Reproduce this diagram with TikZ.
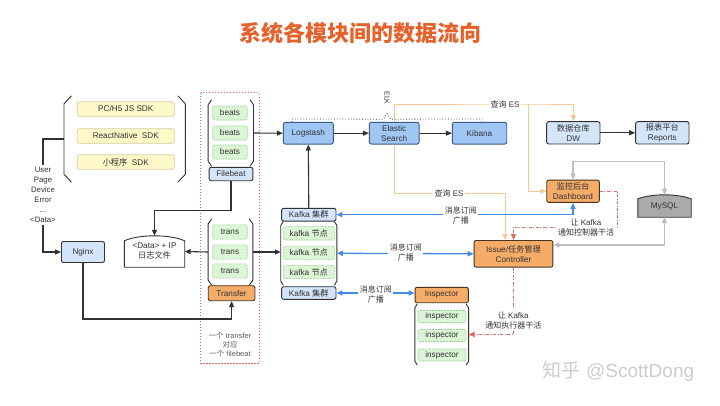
\documentclass[tikz,border=0pt]{standalone}
\usepackage{fontspec}
\setmainfont{Liberation Sans}
\newfontfamily\zh{Noto Sans CJK SC}
\usetikzlibrary{arrows.meta,calc}
\pgfdeclarelayer{bg}
\pgfsetlayers{bg,main}
\definecolor{titlec}{RGB}{230,98,45}
\definecolor{lbluef}{RGB}{212,228,249}
\definecolor{mbluef}{RGB}{160,198,244}
\definecolor{mblued}{RGB}{60,90,130}
\definecolor{orgf}{RGB}{245,172,104}
\definecolor{orgd}{RGB}{70,50,30}
\definecolor{sdkf}{RGB}{255,248,200}
\definecolor{sdkd}{RGB}{215,205,160}
\definecolor{grnf}{RGB}{220,245,215}
\definecolor{grnd}{RGB}{150,210,145}
\definecolor{bluel}{RGB}{66,139,230}
\definecolor{orgl}{RGB}{244,200,150}
\definecolor{grayl}{RGB}{190,190,190}
\definecolor{redl}{RGB}{228,100,100}
\definecolor{redd}{RGB}{238,95,95}
\definecolor{dk}{RGB}{50,50,50}
\definecolor{mysqlf}{RGB}{170,170,170}
\newcommand{\grpbrk}[3]{%
 \draw[brk] ($(#1.north west)+(#2,0)$) -- ($(#1.north west)+(0,#3)$) -- ($(#1.south west)+(0,-#3)$) -- ($(#1.south west)+(#2,0)$);
 \draw[brk] ($(#1.north east)+(-#2,0)$) -- ($(#1.north east)+(0,#3)$) -- ($(#1.south east)+(0,-#3)$) -- ($(#1.south east)+(-#2,0)$);}
\newcommand{\archbox}[4]{%
 \begin{pgfonlayer}{bg}
 \draw[#2] (#1.south west) -- ($(#1.north west)+(0,#3)$) .. controls ($(#1.north west)+(15,#4)$) and ($(#1.north east)+(-15,#4)$) .. ($(#1.north east)+(0,#3)$) -- (#1.south east) -- cycle;
 \end{pgfonlayer}}
\begin{document}
\begin{tikzpicture}[x=1pt,y=-1pt,
  every node/.style={inner sep=0pt, align=center, text=dk},
  >={Triangle[length=6pt,width=5pt]},
  txt/.style={font=\fontsize{8.2}{10}\selectfont},
  sz/.style 2 args={minimum width=#1, minimum height=#2},
  box/.style={txt, rounded corners=2pt, line width=0.9pt, draw=dk},
  lb/.style={box, fill=lbluef},
  mb/.style={box, fill=mbluef, draw=mblued},
  ob/.style={box, fill=orgf, draw=orgd},
  sdk/.style={txt, rounded corners=2pt, line width=0.7pt, draw=sdkd, fill=sdkf, sz={97}{14.5}},
  gb/.style={txt, rounded corners=2pt, line width=0.6pt, draw=grnd, fill=grnf, dash pattern=on 2pt off 1pt},
  grp/.style={draw=none, fill=none},
  brk/.style={draw=dk, line width=0.9pt},
  dkl/.style={draw=dk, line width=1.1pt},
  orl/.style={draw=orgl, line width=0.9pt},
  bll/.style={draw=bluel, line width=1.3pt},
  gyl/.style={draw=grayl, line width=1.5pt},
  rdl/.style={draw=redl, line width=0.9pt, dash pattern=on 3pt off 1.5pt on 1pt off 1.5pt},
  pairbox/.style={draw=redd, line width=1.2pt, dash pattern=on 1.2pt off 1.8pt},
  lab/.style={font=\fontsize{8}{10}\selectfont, fill=white, inner sep=1.5pt}
]
\useasboundingbox (0,0) rectangle (720,405);
\begin{pgfonlayer}{bg}
\fill[white] (0,0) rectangle (720,405);
\end{pgfonlayer}

% title
\node[font=\zh\bfseries\fontsize{22}{24}\selectfont, text=titlec] (title) at (360,33) {系统各模块间的数据流向};

% SDK group
\node[sdk] (pc) at (125.8,109) {PC/H5 JS SDK};
\node[sdk] (rn) at (125.8,136) {ReactNative\ \ SDK};
\node[sdk] (mp) at (125.8,162) {{\zh 小程序}\ \ SDK};
\node[grp, sz={121}{86}] (sdkg) at (124.7,139) {};
\grpbrk{sdkg}{7.5}{8}

\node[font=\fontsize{7.8}{10}\selectfont, inner sep=2pt] (datal) at (43,195) {User\\Page\\Device\\Error\\...\\\textless Data\textgreater};

\node[lb, sz={43}{21}] (nginx) at (83,252) {Nginx};
\node[txt, sz={60}{31}] (logf) at (154.5,251.5) {\textless Data\textgreater{} + IP\\{\zh 日志文件}};
\archbox{logf}{draw=dk, line width=0.9pt, fill=white}{5}{-1.67}

% filebeat group
\node[gb, sz={34.6}{14}] (b1) at (230,113) {beats};
\node[gb, sz={34.6}{14}] (b2) at (230,133) {beats};
\node[gb, sz={34.6}{14}] (b3) at (230,152) {beats};
\node[grp, sz={45}{66}] (fbg) at (230.8,133) {};
\grpbrk{fbg}{3.5}{5}
\node[lb, sz={43.7}{13.4}] (fb) at (231,174) {Filebeat};

% transfer group
\node[gb, sz={34.5}{14.3}] (t1) at (230,232) {trans};
\node[gb, sz={34.5}{14.3}] (t2) at (230,252) {trans};
\node[gb, sz={34.5}{14.3}] (t3) at (230,271) {trans};
\node[grp, sz={44.4}{65.7}] (tg) at (230.5,252) {};
\grpbrk{tg}{3.5}{5}
\node[ob, sz={46.7}{15}] (transfer) at (231.6,293.2) {Transfer};

\node[grp, sz={58}{270}] (pair) at (230,228) {};
\draw[pairbox] (pair.north west) rectangle (pair.south east);
\node[font=\fontsize{7.5}{9}\selectfont, text=dk!80] (note) at (230,344.5) {{\zh 一个} transfer\\{\zh 对应}\\{\zh 一个} filebeat};

% kafka group
\node[lb, sz={54.3}{12.7}] (kc1) at (308.8,214.7) {Kafka {\zh 集群}};
\node[gb, sz={51}{13.3}] (k1) at (308.8,233.3) {kafka {\zh 节点}};
\node[gb, sz={51}{13.3}] (k2) at (308.8,252.7) {kafka {\zh 节点}};
\node[gb, sz={51}{13.3}] (k3) at (308.8,272) {kafka {\zh 节点}};
\node[grp, sz={55.7}{63.3}] (kg) at (308.8,253.3) {};
\grpbrk{kg}{2.5}{4}
\node[lb, sz={54.3}{12.6}] (kc2) at (308.8,293) {Kafka {\zh 集群}};

% ELK
\node[mb, sz={50}{21.7}] (logstash) at (308.3,133.2) {Logstash};
\node[mb, sz={49.7}{21.7}] (es) at (394.2,133.2) {Elastic\\Search};
\node[mb, sz={54.4}{21.7}] (kibana) at (479.5,133.2) {Kibana};
\node[rotate=-90, font=\fontsize{7}{8}\selectfont] (elk) at (387,98) {ELK};
\draw[dk, dotted, line width=0.8pt] ($(logstash.north west)+(9.4,0)$) -- ++(0,-3) -- (383.5,119.2) -- (387,113.5) -- (390.5,119.2) -- ($(kibana.north)+(2.5,-3)$) -- ++(0,3);

% right side
\node[lb, sz={53.3}{22.3}] (dw) at (573.3,132.8) {{\zh 数据仓库}\\DW};
\node[lb, sz={53.3}{22.3}] (rep) at (662.3,132.8) {{\zh 报表平台}\\Reports};
\node[ob, sz={52.6}{22.3}] (dash) at (573,191.2) {{\zh 监控后台}\\Dashboard};
\node[ob, sz={78.7}{26.7}] (ctrl) at (513.5,253.8) {Issue/{\zh 任务管理}\\Controller};
\node[txt, sz={53}{22}] (mysql) at (664.5,206) {MySQL};
\archbox{mysql}{draw=dk, line width=0.9pt, fill=mysqlf}{4}{-1.33}

% inspector group
\node[ob, sz={53.3}{15.4}] (insp) at (441.7,295) {Inspector};
\node[gb, sz={48}{12}] (i1) at (442,316.5) {inspector};
\node[gb, sz={48}{12}] (i2) at (442,335.5) {inspector};
\node[gb, sz={48}{12}] (i3) at (442,355) {inspector};
\node[grp, sz={53.3}{61}] (ig) at (441.7,334.5) {};
\grpbrk{ig}{2.5}{4}

% dark connectors
\draw[dkl] (sdkg.west) -| (datal.north);
\draw[dkl,->] (datal.south) |- (nginx.west);
\draw[dkl,->] (fbg.east) -- (logstash.west);
\draw[dkl,->] (fb.south) -- ++(0,29) -| (logf.north);
\draw[dkl,->] (tg.west) -- (logf.east);
\draw[dkl,->] (tg.east) -- (tg.east -| kg.west);
\draw[dkl,->] (nginx.south) -- ++(0,56) -| (transfer.south);
\draw[dkl,->] (kc1.north) -- (logstash.south);
\draw[dkl,->] (logstash.east) -- (es.west);
\draw[dkl,->] (es.east) -- (kibana.west);
\draw[dkl,->] (dw.east) -- (rep.west);

% orange
\coordinate (j1) at (528.3,104);
\draw[orl,->] (es.north) |- (j1) -| (dw.north);
\draw[orl,->] (j1) |- (dash.west);
\node[lab] (q1) at (505,104) {{\zh 查询} ES};
\coordinate (j2) at (505,193);
\draw[orl,->] (es.south) |- (j2) -- (j2 |- ctrl.north);
\node[lab] (q2) at (449,193) {{\zh 查询} ES};

% blue
\draw[bll,<->] (kc1.east) -| (dash.south);
\node[lab, font=\zh\fontsize{8}{10}\selectfont] (m1) at (460.8,215) {消息订阅\\广播};
\draw[bll,<->] (kg.east) -- (ctrl.west);
\node[lab, font=\zh\fontsize{8}{10}\selectfont] (m2) at (405.8,252) {消息订阅\\广播};
\draw[bll,<->] (kc2.east) -- (kc2.east -| insp.west);
\node[lab, font=\zh\fontsize{8}{10}\selectfont] (m3) at (375.8,294) {消息订阅\\广播};

% gray
\draw[gyl,<->] (dash.north) |- ($(mysql.north)+(0,-33.3)$) -- (mysql.north);
\draw[gyl,<->] (mysql.south) |- ($(ctrl.north east)+(0,5)$);

% red
\draw[rdl,->] (dash.east) -- ++(18,0) |- ($(ctrl.north)+(0,-13)$) -- (ctrl.north);
\node[lab] (r1) at (586,227.5) {{\zh 让} Kafka\\{\zh 通知控制器干活}};
\draw[rdl,->] (ctrl.south) |- (ig.east);
\node[lab] (r2) at (513.3,320) {{\zh 让} Kafka\\{\zh 通知执行器干活}};

% watermark
\node[font=\fontsize{19}{21}\selectfont, text=gray!40] (wm) at (618.5,371.5) {{\zh 知乎} @ScottDong};
\end{tikzpicture}
\end{document}
